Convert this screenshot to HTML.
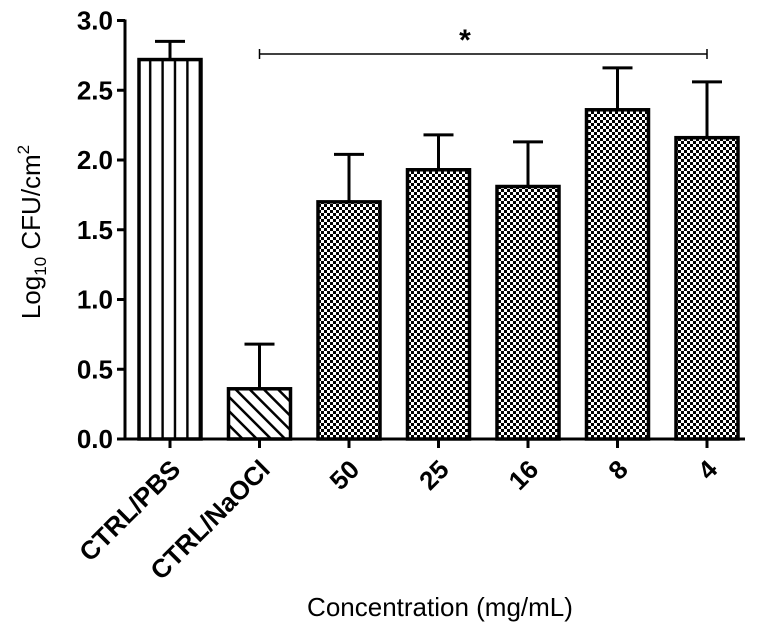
<!DOCTYPE html>
<html><head><meta charset="utf-8"><style>
body{margin:0;background:#fff;}
svg text{font-family:"Liberation Sans",Arial,sans-serif;}
</style></head><body>
<svg id="chart" width="760" height="632" viewBox="0 0 760 632" xmlns="http://www.w3.org/2000/svg">
<defs>
<pattern id="vlines" patternUnits="userSpaceOnUse" width="12.4" height="10" x="139"><rect width="12.4" height="10" fill="#fff"/><rect x="10" width="3" height="10" fill="#000"/></pattern>
<pattern id="diag" patternUnits="userSpaceOnUse" width="10" height="10" patternTransform="rotate(-45)"><rect width="10" height="10" fill="#fff"/><rect width="2.5" height="10" fill="#000"/></pattern>
<pattern id="check" patternUnits="userSpaceOnUse" width="6" height="6"><rect width="6" height="6" fill="#fff"/><rect width="3" height="3" fill="#000"/><rect x="3" y="3" width="3" height="3" fill="#000"/></pattern>
</defs>
<g id="plot"></g>
</svg>
<script>
const categories=["CTRL/PBS","CTRL/NaOCl","50","25","16","8","4"];
const means=[2.72,0.36,1.70,1.93,1.81,2.36,2.16];
const errors=[0.13,0.32,0.34,0.25,0.32,0.30,0.40];
const fills=["url(#vlines)","url(#diag)","url(#check)","url(#check)","url(#check)","url(#check)","url(#check)"];
const yTicks=[0,0.5,1.0,1.5,2.0,2.5,3.0];
const NS="http://www.w3.org/2000/svg";
const g=document.getElementById('plot');
const x0=125,y0=439,pxPerUnit=139.5,step=89.5,firstC=170,barW=62;
const yS=v=>y0-v*pxPerUnit;
const xC=i=>firstC+i*step;
function mk(t,a){const e=document.createElementNS(NS,t);for(const k in a)e.setAttribute(k,a[k]);g.appendChild(e);return e;}
categories.forEach((c,i)=>{
  const top=yS(means[i]+errors[i]);
  const l=mk('line',{x1:xC(i),x2:xC(i),y1:yS(means[i]),y2:top,stroke:'#000','stroke-width':3});
  
  
  const cap=mk('line',{x1:xC(i)-15,x2:xC(i)+15,y1:top,y2:top,stroke:'#000','stroke-width':3});
  
  
  const r=mk('rect',{x:xC(i)-barW/2,y:yS(means[i]),width:barW,height:y0-yS(means[i]),fill:fills[i],stroke:'#000','stroke-width':3.5});
  
  
  const t=mk('line',{x1:xC(i),x2:xC(i),y1:y0,y2:y0+9,stroke:'#000','stroke-width':3});
  
  
  const ax_=xC(i)+12,ay_=y0+32;
  const lb=mk('text',{x:ax_,y:ay_,'font-size':26,'font-weight':'bold','text-anchor':'end',transform:`rotate(-45 ${ax_} ${ay_})`});
  lb.textContent=c;
  
  
});
const ax=mk('line',{x1:x0,x2:x0,y1:yS(3)-1,y2:y0+1.5,stroke:'#000','stroke-width':3});


const xa=mk('line',{x1:x0-1.5,x2:745,y1:y0,y2:y0,stroke:'#000','stroke-width':3});


yTicks.forEach(v=>{
  const t=mk('line',{x1:x0-8,x2:x0,y1:yS(v),y2:yS(v),stroke:'#000','stroke-width':3});
  
  
  const lb=mk('text',{x:x0-12,y:yS(v)+9,'font-size':26,'font-weight':'bold','text-anchor':'end'});
  lb.textContent=v.toFixed(1);
  
  
});
const sY=54;
const s=mk('path',{d:`M${xC(1)},${sY-5}V${sY+5}M${xC(1)},${sY}H${xC(6)}M${xC(6)},${sY-5}V${sY+5}`,stroke:'#000','stroke-width':1.5,fill:'none'});


const st=mk('text',{x:465,y:50,'font-size':30,'font-weight':'bold','text-anchor':'middle'});
st.textContent='*';


const yt=mk('text',{x:0,y:0,'font-size':26,'text-anchor':'middle',transform:'translate(40 232) rotate(-90)'});
yt.innerHTML='Log<tspan font-size="17" dy="6">10</tspan><tspan dy="-6"> CFU/cm</tspan><tspan font-size="17" dy="-11">2</tspan>';


const xt=mk('text',{x:440,y:616,'font-size':26,'text-anchor':'middle'});
xt.textContent='Concentration (mg/mL)';


</script>
</body></html>
